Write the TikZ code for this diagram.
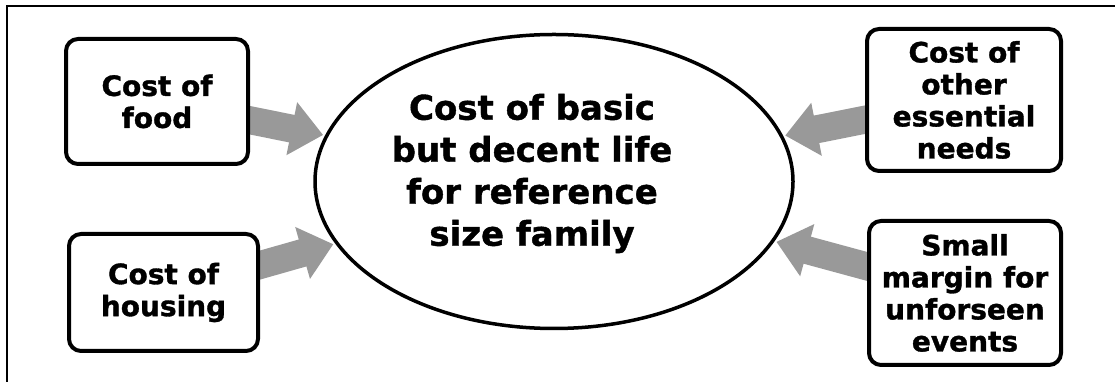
\documentclass[tikz,border=0pt]{standalone}
\usepackage{fontspec}
\setmainfont{DejaVu Sans}
\newfontfamily\heavyfont{DejaVu Sans Bold}[FakeBold=1.2]
\usetikzlibrary{positioning,arrows.meta,shapes.geometric,backgrounds}
\usepackage{xcolor}
\definecolor{arrowc}{RGB}{153,153,153}
\tikzset{
  costbox/.style={draw=black, line width=4pt, rounded corners=12pt, fill=white, align=center,
    font=\fontsize{28}{32}\selectfont\heavyfont, inner sep=4pt},
  lifebox/.style={draw=black, line width=3.5pt, ellipse, fill=white, inner sep=0pt},
  lifetext/.style={align=center, font=\fontsize{34}{42}\selectfont\heavyfont},
  feed/.style={line width=28pt, arrowc, -{Triangle[length=32pt,width=52pt]}, shorten >=2pt},
  frame/.style={line width=2pt, black}
}

\begin{document}
\begin{tikzpicture}[x=1pt,y=1pt]
  \useasboundingbox (0,0) rectangle (1115,382);
  % ---- slide frame ----
  \draw[frame] (7,0) -- (7,376) -- (1115,376);

  % ---- centre ----
  \node[lifebox, minimum width=478pt, minimum height=294pt] (life) at (554,200.5) {};
  \node[lifetext] (lifelabel) at ([xshift=-22pt,yshift=8pt]life.center)
    {Cost of basic\\but decent life\\for reference\\size family};

  % ---- left ----
  \node[costbox, minimum width=182pt, minimum height=125pt] (food) at (157,280.5) {Cost of\\food};
  \node[costbox, minimum width=189pt, minimum height=117pt] (housing) at (163.5,89.5) {Cost of\\housing};

  % ---- right ----
  \node[costbox, minimum width=194pt, minimum height=142pt] (other) at (964,282) {Cost of\\other\\essential\\needs};
  \node[costbox, minimum width=192pt, minimum height=144pt] (margin) at (965,89) {Small\\margin for\\unforseen\\events};

  % arrows
  \begin{scope}[on background layer]
    \draw[feed] (food.center) -- (life);
    \draw[feed] (housing.center) -- (life);
    \draw[feed] (other.center) -- (life);
    \draw[feed] (margin.center) -- (life);
  \end{scope}
\end{tikzpicture}
\end{document}
